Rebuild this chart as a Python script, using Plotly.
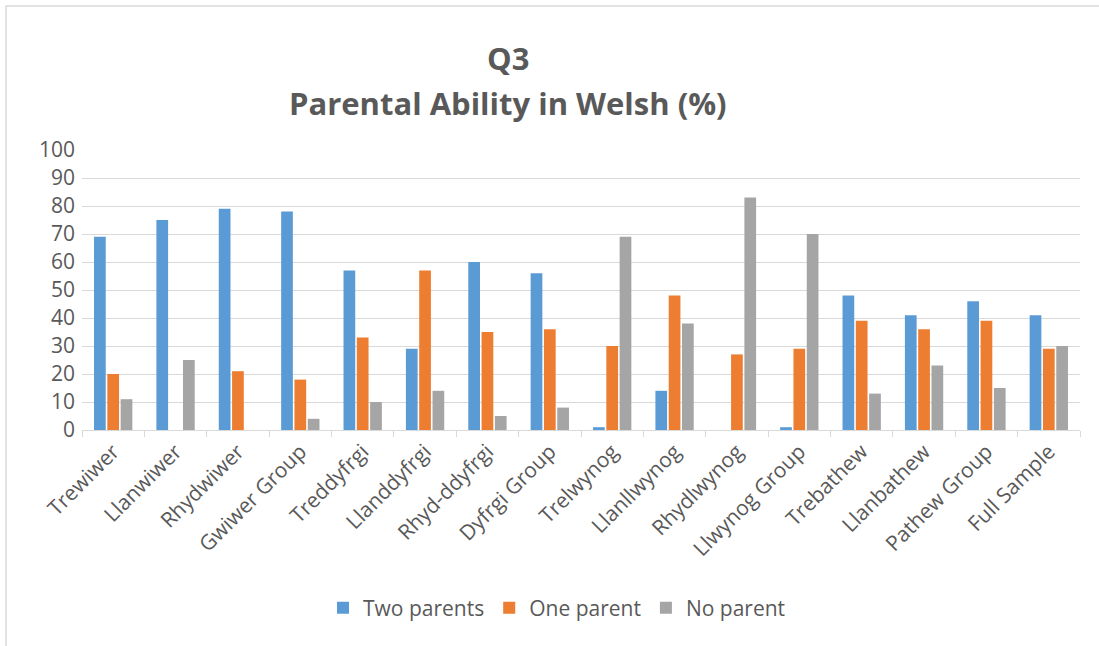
import plotly.graph_objects as go

categories = ["Trewiwer", "Llanwiwer", "Rhydwiwer", "Gwiwer Group", "Treddyfrgi",
              "Llanddyfrgi", "Rhyd-ddyfrgi", "Dyfrgi Group", "Trelwynog", "Llanllwynog",
              "Rhydlwynog", "Llwynog Group", "Trebathew", "Llanbathew", "Pathew Group",
              "Full Sample"]
two_parents = [69, 75, 79, 78, 57, 29, 60, 56, 1, 14, 0, 1, 48, 41, 46, 41]
one_parent = [20, 0, 21, 18, 33, 57, 35, 36, 30, 48, 27, 29, 39, 36, 39, 29]
no_parent = [11, 25, 0, 4, 10, 14, 5, 8, 69, 38, 83, 70, 13, 23, 15, 30]
series_names = ["Two parents", "One parent", "No parent"]
colors = ["#5B9BD5", "#ED7D31", "#A5A5A5"]
y_ticks = list(range(0, 101, 10))

FONT = "Open Sans"
TXT = "#595959"

# figure placed at the page origin (body margin removed by post_script)
PL, PR, PT, PB = 82, 1080, 150, 430
W, H = 1099, 646
PH = PB - PT
PW = PR - PL


def py(y):  # pixel y -> paper y
    return (PB - y) / PH


def px(x):  # pixel x -> paper x
    return (x - PL) / PW


fig = go.Figure()
for name, vals, col in zip(series_names, [two_parents, one_parent, no_parent], colors):
    fig.add_trace(go.Bar(name=name, x=categories, y=vals, marker_color=col,
                         marker_line_width=0))

fig.update_layout(
    width=W, height=H,
    margin=dict(l=PL, r=W - PR, t=PT, b=H - PB, pad=0),
    paper_bgcolor="white", plot_bgcolor="white",
    barmode="group", bargap=0.36, bargroupgap=0.12,
    font=dict(family=FONT, color=TXT, size=21),
    showlegend=True,
    legend=dict(orientation="h", x=px(557), xanchor="center", y=py(608), yanchor="middle",
                font=dict(size=21, color=TXT), itemwidth=30, tracegroupgap=0),
    xaxis=dict(tickangle=-45, showline=True, linecolor="#D9D9D9", linewidth=1,
               ticks="outside", tickson="boundaries", ticklen=6, tickcolor="#D9D9D9",
               tickfont=dict(size=21, color=TXT), showgrid=False),
    yaxis=dict(range=[0, 100], tickvals=y_ticks, showgrid=True, gridcolor="#D9D9D9",
               gridwidth=1, zeroline=False, showline=False,
               tickfont=dict(size=21, color=TXT), ticklabelstandoff=6),
    annotations=[
        dict(text="<b>Q3</b>", xref="paper", yref="paper", x=px(508), y=py(58),
             xanchor="center", yanchor="middle", showarrow=False,
             font=dict(size=31, color=TXT, family=FONT)),
        dict(text="<b>Parental Ability in Welsh (%)</b>", xref="paper", yref="paper",
             x=px(508), y=py(103), xanchor="center", yanchor="middle",
             showarrow=False, font=dict(size=31, color=TXT, family=FONT)),
    ],
    shapes=[
        dict(type="rect", xref="paper", yref="paper", x0=px(6), x1=px(1200),
             y0=py(800), y1=py(6), line=dict(color="#D9D9D9", width=1.5),
             layer="below"),
    ],
)

fig.write_html("out.html", config={"displayModeBar": False},
               post_script="document.body.style.margin='0';document.body.style.overflow='hidden';")
